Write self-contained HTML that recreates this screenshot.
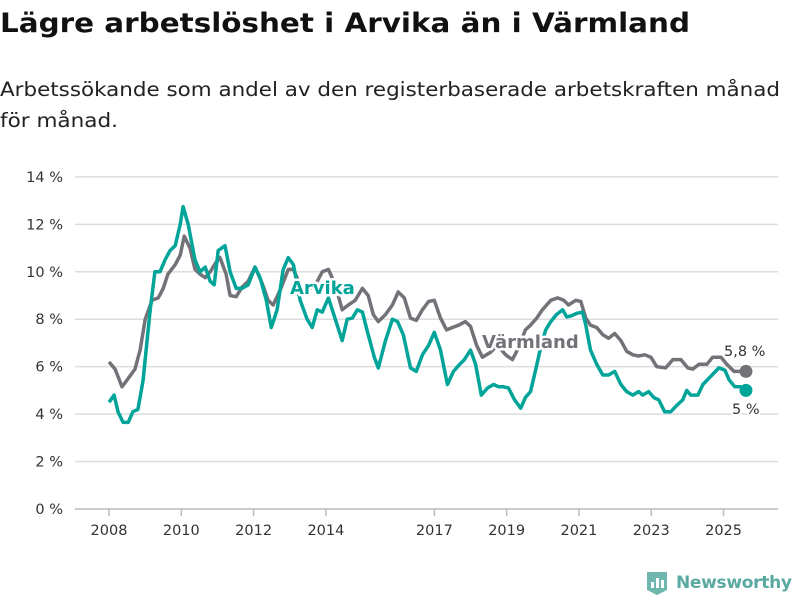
<!DOCTYPE html>
<html><head><meta charset="utf-8"><style>
body{margin:0;background:#fff;width:800px;height:600px;overflow:hidden;font-family:"DejaVu Sans","Liberation Sans",sans-serif;}
svg{position:absolute;left:0;top:0}
</style></head><body>
<svg id="c" width="800" height="600">
<text x="0" y="32" font-size="27" font-weight="bold" fill="#111" textLength="690" lengthAdjust="spacingAndGlyphs">Lägre arbetslöshet i Arvika än i Värmland</text>
<text x="0" y="96" font-size="19.5" fill="#222" textLength="780" lengthAdjust="spacingAndGlyphs">Arbetssökande som andel av den registerbaserade arbetskraften månad</text>
<text x="0" y="127" font-size="19.5" fill="#222" textLength="118" lengthAdjust="spacingAndGlyphs">för månad.</text>
</svg>
<script>
const yTicks=[0,2,4,6,8,10,12,14];
const xTickYears=[2008,2010,2012,2014,2017,2019,2021,2023,2025];
const varmDates=[0,.17,.36,.53,.72,.86,1.0,1.19,1.36,1.5,1.63,1.83,1.97,2.08,2.24,2.38,2.52,2.66,2.8,2.96,3.07,3.24,3.35,3.52,3.68,3.85,4.04,4.24,4.4,4.54,4.74,4.96,5.1,5.29,5.51,5.71,5.9,6.07,6.26,6.45,6.62,6.81,7.01,7.17,7.31,7.45,7.65,7.84,8.0,8.17,8.34,8.5,8.67,8.84,9.0,9.17,9.34,9.5,9.67,9.86,10.0,10.17,10.33,10.55,10.75,10.97,11.16,11.33,11.52,11.66,11.83,11.99,12.22,12.41,12.58,12.71,12.91,13.05,13.19,13.32,13.49,13.66,13.82,13.99,14.16,14.32,14.49,14.65,14.82,14.99,15.15,15.4,15.6,15.82,16.01,16.15,16.32,16.54,16.7,16.93,17.09,17.29,17.42,17.62];
const varmValues=[6.2,5.9,5.15,5.5,5.9,6.7,8.0,8.8,8.9,9.3,9.9,10.3,10.7,11.5,11.0,10.1,9.9,9.75,10.0,10.4,10.6,9.9,9.0,8.95,9.35,9.6,10.2,9.5,8.8,8.6,9.25,10.1,10.1,9.45,9.25,9.45,10.0,10.1,9.45,8.4,8.6,8.8,9.3,9.0,8.2,7.9,8.2,8.6,9.15,8.9,8.05,7.95,8.4,8.75,8.8,8.05,7.55,7.65,7.75,7.9,7.7,6.9,6.4,6.6,6.9,6.5,6.3,6.8,7.55,7.75,8.05,8.4,8.8,8.9,8.8,8.6,8.8,8.75,8.05,7.75,7.65,7.35,7.2,7.4,7.1,6.65,6.5,6.45,6.5,6.4,6.0,5.95,6.3,6.3,5.95,5.9,6.1,6.1,6.4,6.4,6.1,5.8,5.8,5.8];
const arvDates=[0,.14,.25,.39,.53,.66,.8,.94,1.14,1.27,1.41,1.55,1.69,1.83,1.97,2.05,2.19,2.38,2.52,2.66,2.8,2.91,3.02,3.21,3.35,3.52,3.68,3.85,4.04,4.18,4.35,4.49,4.65,4.82,4.96,5.1,5.29,5.48,5.62,5.76,5.9,6.07,6.26,6.45,6.59,6.73,6.87,7.01,7.17,7.34,7.45,7.65,7.84,7.98,8.14,8.34,8.5,8.67,8.84,9.0,9.17,9.36,9.53,9.7,9.83,10.0,10.14,10.3,10.47,10.64,10.78,10.91,11.05,11.22,11.39,11.52,11.66,11.8,11.94,12.08,12.22,12.38,12.55,12.66,12.8,12.94,13.1,13.19,13.32,13.49,13.66,13.82,13.99,14.16,14.32,14.49,14.65,14.76,14.93,15.07,15.21,15.37,15.54,15.73,15.87,15.98,16.09,16.29,16.43,16.65,16.87,17.04,17.15,17.31,17.48,17.62];
const arvValues=[4.5,4.8,4.1,3.65,3.65,4.1,4.2,5.4,8.4,10.0,10.0,10.5,10.9,11.1,12.0,12.75,12.0,10.5,10.0,10.2,9.6,9.45,10.9,11.1,10.0,9.3,9.3,9.45,10.2,9.75,8.8,7.65,8.4,10.1,10.6,10.3,8.8,8.0,7.65,8.4,8.3,8.9,8.0,7.1,8.0,8.05,8.4,8.3,7.35,6.4,5.95,7.1,8.0,7.9,7.35,5.95,5.8,6.5,6.9,7.45,6.7,5.25,5.8,6.1,6.3,6.7,6.1,4.8,5.1,5.25,5.15,5.15,5.1,4.6,4.25,4.7,4.95,5.85,6.8,7.55,7.9,8.2,8.4,8.1,8.15,8.25,8.3,7.75,6.7,6.1,5.65,5.65,5.8,5.25,4.95,4.8,4.95,4.8,4.95,4.7,4.6,4.1,4.1,4.4,4.6,5.0,4.8,4.8,5.25,5.6,5.95,5.85,5.45,5.15,5.15,5.0];
const NS='http://www.w3.org/2000/svg';
const svg=document.getElementById('c');
const X=t=>109+t*36.15;
const XY=y=>X(y-2008);
const Y=v=>509-v*23.72;
function mk(tag,at,parent){const e=document.createElementNS(NS,tag);for(const k in at)e.setAttribute(k,at[k]);(parent||svg).appendChild(e);return e;}
yTicks.forEach(v=>{
  const l=mk('line',{x1:75,x2:778,y1:Y(v),y2:Y(v),stroke:v===0?'#bbb':'#ddd','stroke-width':1.5});
  
  
  const t=mk('text',{x:63,y:Y(v)+5,'text-anchor':'end','font-size':14.5,fill:'#333'});
  t.textContent=v+' %';
  
  
});
xTickYears.forEach(yr=>{
  const l=mk('line',{x1:XY(yr),x2:XY(yr),y1:509,y2:516,stroke:'#bbb','stroke-width':1.5});
  
  
  const t=mk('text',{x:XY(yr),y:535,'text-anchor':'middle','font-size':14.5,fill:'#333'});
  t.textContent=yr;
  
  
});
function line(d,v,col,name){
  const p=mk('path',{d:d.map((t,i)=>(i?'L':'M')+X(t).toFixed(1)+','+Y(v[i]).toFixed(1)).join(''),fill:'none',stroke:col,'stroke-width':3.5,'stroke-linejoin':'round'});
  
  
  const c=mk('circle',{cx:X(d[d.length-1]),cy:Y(v[v.length-1]),r:6.5,fill:col});
  
  
}
line(varmDates,varmValues,'#747279','varmland-line');
line(arvDates,arvValues,'#00a498','arvika-line');
function lab(x,y,s,col,bold,name,size){
  const t=mk('text',{x:x,y:y,fill:col,'font-size':size,'font-weight':bold?'bold':'normal',stroke:'#fff','stroke-width':bold?5:4,'paint-order':'stroke','stroke-linejoin':'round'});
  t.textContent=s;
  
  
}
lab(290,294,'Arvika','#00a498',true,'arvika-label',18);
lab(482,348,'Värmland','#747279',true,'varmland-label',18);
lab(724,356,'5,8 %','#333',false,'varmland-end-value',14.5);
lab(732,414,'5 %','#333',false,'arvika-end-value',14.5);
</script>
<div style="position:absolute;left:645px;top:570px;height:26px;display:flex;align-items:center;">
<svg width="24" height="26" style="position:static"><path d="M2 2h20v18l-10 5l-10-5z" fill="#6fb7ae"/><rect x="6" y="12" width="3" height="6" fill="#fff"/><rect x="11" y="8" width="3" height="10" fill="#fff"/><rect x="16" y="10" width="3" height="8" fill="#fff"/></svg>
<span style="margin-left:7px;font-size:17px;font-weight:bold;color:#5aa9a0;letter-spacing:-0.3px">Newsworthy</span>
</div>
</body></html>
